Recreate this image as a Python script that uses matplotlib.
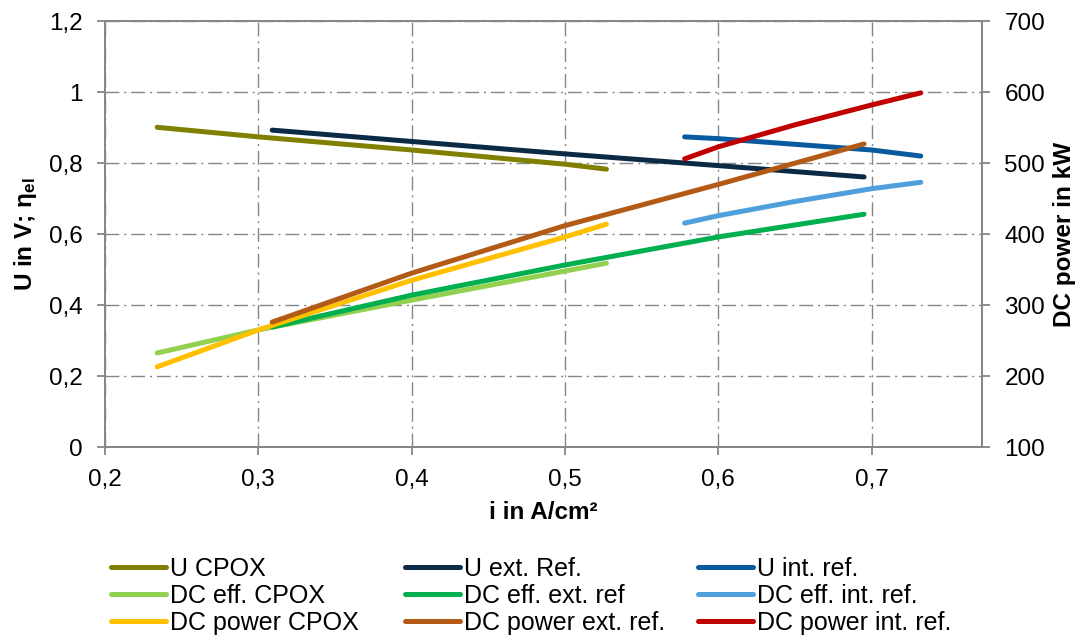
import matplotlib
matplotlib.use('Agg')
import matplotlib.pyplot as plt
from matplotlib.ticker import FuncFormatter, MultipleLocator

plt.rcParams['font.family'] = ['Liberation Sans', 'DejaVu Sans']
plt.rcParams['mathtext.default'] = 'regular'

# current density (A/cm²) for each series
i_cpox = [0.234, 0.30, 0.40, 0.50, 0.527]
i_ext = [0.309, 0.40, 0.50, 0.60, 0.695]
i_int = [0.578, 0.60, 0.65, 0.70, 0.732]

# left axis: voltage and efficiency
u_cpox = [0.901, 0.874, 0.837, 0.797, 0.783]
u_ext = [0.893, 0.861, 0.826, 0.793, 0.761]
u_int = [0.874, 0.869, 0.853, 0.837, 0.820]
eff_cpox = [0.265, 0.330, 0.414, 0.496, 0.518]
eff_ext = [0.338, 0.428, 0.513, 0.592, 0.656]
eff_int = [0.631, 0.652, 0.692, 0.728, 0.746]

# right axis: DC power in kW
p_cpox = [213, 265, 335, 396, 414]
p_ext = [276, 345, 412, 470, 527]
p_int = [506, 523, 554, 582, 599]

fig = plt.figure(figsize=(10.84, 6.42), dpi=100)
ax = fig.add_axes([0.0969, 0.3037, 0.8091, 0.6633])
ax2 = ax.twinx()

lw = 3.6
grey = '#868686'

l1, = ax.plot(i_cpox, u_cpox, color='#7f8000', lw=lw, solid_capstyle='round', label='U CPOX')
l2, = ax.plot(i_ext, u_ext, color='#0b2a45', lw=lw, solid_capstyle='round', label='U ext. Ref.')
l3, = ax.plot(i_int, u_int, color='#0a5aa0', lw=lw, solid_capstyle='round', label='U int. ref.')
l4, = ax.plot(i_cpox, eff_cpox, color='#92d050', lw=lw, solid_capstyle='round', label='DC eff. CPOX')
l5, = ax.plot(i_ext, eff_ext, color='#00b050', lw=lw, solid_capstyle='round', label='DC eff. ext. ref')
l6, = ax.plot(i_int, eff_int, color='#4f9fdc', lw=lw, solid_capstyle='round', label='DC eff. int. ref.')
l7, = ax2.plot(i_cpox, p_cpox, color='#ffc000', lw=lw, solid_capstyle='round', label='DC power CPOX')
l8, = ax2.plot(i_ext, p_ext, color='#b35a16', lw=lw, solid_capstyle='round', label='DC power ext. ref.')
l9, = ax2.plot(i_int, p_int, color='#c00000', lw=lw, solid_capstyle='round', label='DC power int. ref.')

ax.set_xlim(0.2, 0.772)
ax.set_ylim(0, 1.2)
ax2.set_ylim(100, 700)
ax.xaxis.set_major_locator(MultipleLocator(0.1))
ax.yaxis.set_major_locator(MultipleLocator(0.2))
ax2.yaxis.set_major_locator(MultipleLocator(100))

def komma(v, pos):
    s = '%g' % round(v, 2)
    return s.replace('.', ',')

ax.xaxis.set_major_formatter(FuncFormatter(komma))
ax.yaxis.set_major_formatter(FuncFormatter(komma))
ax2.yaxis.set_major_formatter(FuncFormatter(lambda v, p: '%d' % v))

ax.grid(True, color=grey, linestyle=(0, (10, 3.5, 1.5, 3.5)), linewidth=1.0)
for a in (ax, ax2):
    for s in a.spines.values():
        s.set_color(grey)
        s.set_linewidth(1.3)
    a.tick_params(colors=grey, labelcolor='black', labelsize=17.5, length=6,
                  width=1.3, direction='out', pad=10)
ax.set_axisbelow(True)

ax.set_xlabel('i in A/cm²', fontsize=17.5, fontweight='bold', labelpad=7)
ax.set_ylabel('U in V; η$_{el}$', fontsize=17.5, fontweight='bold', labelpad=7)
ax2.set_ylabel('DC power in kW', fontsize=17.5, fontweight='bold', labelpad=6)

# Excel style legend: three fixed-width columns, filled row-wise
columns = [[l1, l4, l7], [l2, l5, l8], [l3, l6, l9]]
col_x = [0.1024, 0.3736, 0.6439]
for hs, x in zip(columns, col_x):
    leg = fig.legend(hs, [h.get_label() for h in hs], loc='center left',
                     bbox_to_anchor=(x, 0.0717), frameon=False, fontsize=18,
                     handlelength=2.2, handletextpad=0.16, labelspacing=0.12,
                     borderaxespad=0, borderpad=0)

fig.savefig('out.png', dpi=100)
